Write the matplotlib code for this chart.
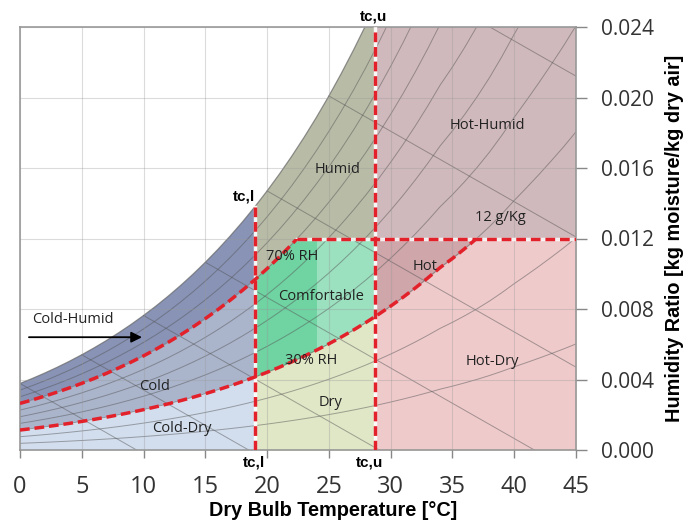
import numpy as np
import matplotlib.pyplot as plt
from matplotlib.patches import Rectangle

# saturation humidity ratio [kg/kg], 1 degC steps (100% RH curve of the chart)
temp = np.arange(0, 46)
w_sat = np.array([
    0.003775, 0.004060, 0.004364, 0.004689, 0.005034, 0.005403, 0.005796, 0.006213,
    0.006657, 0.007129, 0.007632, 0.008165, 0.008732, 0.009334, 0.009973, 0.010651,
    0.011369, 0.012131, 0.012938, 0.013794, 0.014700, 0.015659, 0.016674, 0.017749,
    0.018885, 0.020087, 0.021359, 0.022703, 0.024124, 0.025625, 0.027212, 0.028887,
    0.030658, 0.032527, 0.034502, 0.036220, 0.038090, 0.040090, 0.042260, 0.044640,
    0.047190, 0.049610, 0.052100, 0.054690, 0.057350, 0.060180])

rh_lines = [0.1, 0.2, 0.3, 0.4, 0.5, 0.6, 0.7, 0.8, 0.9]
wet_bulb = [0, 5, 10, 15, 20, 25, 30]
wb_slope = -0.0004   # kg/kg per degC along wet bulb lines

# comfort zone limits
t_cl = 19.0
t_cu = 28.7
w_cap = 0.012
rh_low = 0.3
rh_high = 0.7
t_split = 24.0

zone_names = ["Humid", "Hot-Humid", "12 g/Kg", "70% RH", "Comfortable", "Hot",
              "Cold-Humid", "Cold", "30% RH", "Dry", "Cold-Dry", "Hot-Dry"]
zone_x = [25.7, 37.8, 38.9, 22.0, 24.4, 32.8, 4.3, 10.9, 23.6, 25.1, 13.1, 38.2]
zone_y = [0.0159, 0.0184, 0.0132, 0.0110, 0.0087, 0.0104, 0.0074, 0.0036, 0.0051, 0.0027, 0.0012, 0.0050]

x_ticks = [0, 5, 10, 15, 20, 25, 30, 35, 40, 45]
y_ticks = [0.000, 0.004, 0.008, 0.012, 0.016, 0.020, 0.024]
y_tick_labels = ["0.000", "0.004", "0.008", "0.012", "0.016", "0.020", "0.024"]

x_max = 45
y_max = 0.024

fig = plt.figure(figsize=(6.84, 5.24), dpi=100)
ax = fig.add_axes([20 / 684, 74 / 524, 556 / 684, 423 / 524])
ax.set_xlim(0, x_max)
ax.set_ylim(0, y_max)


def clip_box(x0, x1, y0, y1):
    return Rectangle((x0, y0), x1 - x0, y1 - y0, transform=ax.transData)


def fill(lo, hi, color, box):
    pc = ax.fill_between(temp, lo, hi, color=color, lw=0, zorder=1)
    pc.set_clip_path(clip_box(*box))


# -----------------------------
# zones
# -----------------------------
# cold side
fill(rh_high * w_sat, w_sat, "#8893b6", (0, t_cl, 0, y_max))
fill(rh_low * w_sat, rh_high * w_sat, "#aab5cc", (0, t_cl, 0, y_max))
fill(0, rh_low * w_sat, "#d2deee", (0, t_cl, 0, y_max))

# comfort band
fill(0, w_sat, "#b8bba6", (t_cl, t_cu, 0, y_max))
fill(rh_low * w_sat, rh_high * w_sat, "#6fd3a2", (t_cl, t_split, 0, w_cap))
fill(rh_low * w_sat, rh_high * w_sat, "#9be0bf", (t_split, t_cu, 0, w_cap))
fill(0, rh_low * w_sat, "#e0e7c6", (t_cl, t_cu, 0, y_max))

# hot side
ax.add_patch(Rectangle((t_cu, w_cap), x_max - t_cu, y_max - w_cap, color="#d0b9bc", lw=0, zorder=1))
ax.add_patch(Rectangle((t_cu, 0), x_max - t_cu, w_cap, color="#cfa6aa", lw=0, zorder=1))
fill(0, rh_low * w_sat, "#efcacb", (t_cu, x_max, 0, w_cap))

# -----------------------------
# psychrometric lines
# -----------------------------
for rh in rh_lines:
    ax.plot(temp, rh * w_sat, color="#555555", lw=0.7, alpha=0.5, zorder=2)
ax.plot(temp, w_sat, color="#666666", lw=0.9, alpha=0.7, zorder=2)

for tw in wet_bulb:
    w0 = np.interp(tw, temp, w_sat)
    ax.plot([tw, 60], [w0, w0 + wb_slope * (60 - tw)], color="#555555", lw=0.7, alpha=0.5, zorder=2)

# -----------------------------
# zone borders (red dashes)
# -----------------------------
red = "#e3212b"
dash = dict(color=red, lw=2.5, dashes=(2.8, 1.4), zorder=4)

line, = ax.plot(temp, rh_high * w_sat, **dash)
line.set_clip_path(clip_box(0, x_max, 0, w_cap))
line, = ax.plot(temp, rh_low * w_sat, **dash)
line.set_clip_path(clip_box(0, x_max, 0, w_cap))

t70 = np.interp(w_cap, rh_high * w_sat, temp)
w_top_cl = np.interp(t_cl, temp, w_sat)

ax.plot([t70, x_max], [w_cap, w_cap], color="white", lw=2.5, alpha=0.8, zorder=3)
ax.plot([t70, x_max], [w_cap, w_cap], **dash)
ax.plot([t_cl, t_cl], [0, w_top_cl], color="white", lw=2.5, alpha=0.9, zorder=3)
ax.plot([t_cl, t_cl], [0, w_top_cl], **dash)
ax.plot([t_cu, t_cu], [0, y_max], color="white", lw=2.5, alpha=0.9, zorder=3)
ax.plot([t_cu, t_cu], [0, y_max], **dash)

# -----------------------------
# labels
# -----------------------------
for name, x, y in zip(zone_names, zone_x, zone_y):
    ax.text(x, y, name, ha="center", va="center", fontsize=10.5, family="Open Sans",
            color="#222222", zorder=5)

ax.annotate("", xy=(10.1, 0.0064), xytext=(0.5, 0.0064),
            arrowprops=dict(arrowstyle="-|>", color="black", lw=1.3, mutation_scale=16), zorder=5)

tc_font = dict(fontsize=11, fontweight="bold", family="Liberation Sans", color="black",
               ha="center", va="center", clip_on=False, zorder=5)
ax.text(18.1, 0.0144, "tc,l", **tc_font)
ax.text(28.6, 0.0246, "tc,u", **tc_font)
ax.text(18.9, -0.0007, "tc,l", **tc_font)
ax.text(28.3, -0.0007, "tc,u", **tc_font)

# -----------------------------
# axes
# -----------------------------
ax.set_axisbelow(False)
ax.grid(True, color="#999999", alpha=0.35, lw=0.8)
ax.set_xticks(x_ticks)
ax.set_yticks(y_ticks)
ax.set_yticklabels(y_tick_labels)
ax.yaxis.tick_right()
ax.tick_params(axis="x", direction="out", length=6, width=1, color="#888888", pad=12,
               labelsize=17, labelcolor="#333333")
ax.tick_params(axis="y", direction="out", length=8, width=1, color="#888888", pad=10,
               labelsize=15, labelcolor="#333333")
for lab in ax.get_xticklabels() + ax.get_yticklabels():
    lab.set_family("Open Sans")
for sp in ax.spines.values():
    sp.set_color("#999999")
    sp.set_linewidth(1.2)

fig.text(333 / 684, 1 - 510 / 524, "Dry Bulb Temperature [°C]", ha="center", va="center",
         fontsize=14.3, fontweight="bold", family="Liberation Sans")
fig.text(674 / 684, 1 - 238 / 524, "Humidity Ratio [kg moisture/kg dry air]", ha="center",
         va="center", rotation=90, fontsize=14.3, fontweight="bold", family="Liberation Sans")

plt.savefig("out.png", dpi=100)
